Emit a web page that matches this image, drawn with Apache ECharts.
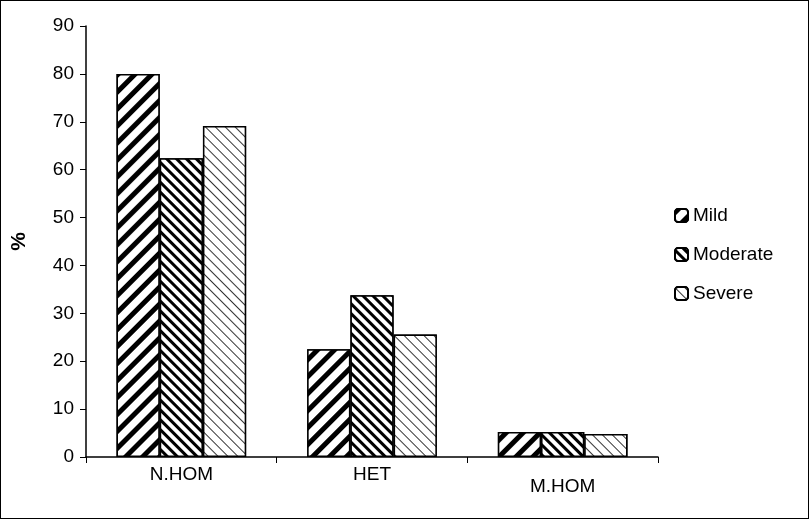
<!DOCTYPE html>
<html><head><meta charset="utf-8">
<script src="https://cdn.jsdelivr.net/npm/echarts@6/dist/echarts.min.js"></script>
<style>html,body{margin:0;padding:0;background:#fff}
#c{position:absolute;left:0;top:0;width:807px;height:517px;border:1px solid #000}</style>
</head><body><div id="c"></div>
<script>
const categories=['N.HOM','HET','M.HOM'];
const seriesNames=['Mild','Moderate','Severe'];
const mild=[80,22.5,5.2];
const moderate=[62.4,33.8,5.2];
const severe=[69.1,25.6,4.8];
const yTicks=[0,10,20,30,40,50,60,70,80,90];
const decals=[
 {symbol:'rect',dashArrayX:[1,0],dashArrayY:[5,7],rotation:-Math.PI/4,color:'#000',backgroundColor:'#fff'},
 {symbol:'rect',dashArrayX:[1,0],dashArrayY:[3,4],rotation:Math.PI/4,color:'#000',backgroundColor:'#fff'},
 {symbol:'rect',dashArrayX:[[1,0],[1,0]],dashArrayY:[1,6],rotation:Math.PI/4,color:'#333',backgroundColor:'#fff'}
];
const data=[mild,moderate,severe];
const chart=echarts.init(document.getElementById('c'));
const font='Liberation Sans, Arial, sans-serif';
chart.setOption({
 animation:false,
 grid:{left:82,right:150,top:25,bottom:61},
 legend:{orient:'vertical',left:668,top:200,itemGap:20,itemWidth:13,itemHeight:13,
  textStyle:{fontFamily:font,fontSize:19,color:'#000'},data:seriesNames},
 xAxis:{type:'category',data:categories,axisLine:{lineStyle:{color:'#000',width:1.5}},
  axisTick:{show:true,length:6,lineStyle:{color:'#000'}},
  axisLabel:{fontFamily:font,fontSize:19,color:'#000',margin:12,
   formatter:(v,i)=>i===2?'\n'+v:v,lineHeight:12}},
 yAxis:{type:'value',min:0,max:90,interval:10,name:'%',nameLocation:'middle',nameGap:56,
  nameRotate:90,nameTextStyle:{fontFamily:font,fontSize:21,color:'#000',fontWeight:'bold'},
  axisLine:{show:true,lineStyle:{color:'#000',width:1.5}},axisTick:{show:true,length:6,lineStyle:{color:'#000'}},
  splitLine:{show:false},axisLabel:{fontFamily:font,fontSize:19,color:'#000',margin:12}},
 series:seriesNames.map((n,i)=>({name:n,type:'bar',data:data[i],barGap:'0%',barCategoryGap:'32%',
  itemStyle:{color:'#fff',borderColor:'#000',borderWidth:1.5,decal:decals[i]}}))
});
</script></body></html>
